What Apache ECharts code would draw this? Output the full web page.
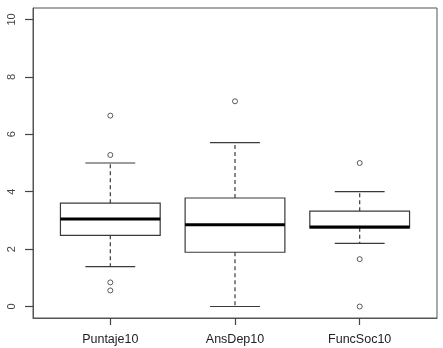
<!DOCTYPE html>
<html>
<head>
<meta charset="utf-8">
<script src="https://cdn.jsdelivr.net/npm/echarts@6/dist/echarts.min.js"></script>
<style>html,body{margin:0;padding:0;background:#fff}#c{width:443px;height:348px}</style>
</head>
<body>
<div id="c"></div>
<script>
var categories = ['Puntaje10', 'AnsDep10', 'FuncSoc10'];
var lowerWhisker = [1.39, 0, 2.2];
var q1 = [2.48, 1.89, 2.74];
var median = [3.05, 2.85, 2.77];
var q3 = [3.6, 3.78, 3.32];
var upperWhisker = [5.0, 5.71, 4.0];
var outliers = [[6.65, 5.28, 0.84, 0.56], [7.15], [5.0, 1.65, 0]];
var yTicks = [0, 2, 4, 6, 8, 10];
var xTicks = [1, 2, 3];

var boxData = categories.map(function (c, i) {
  return [i + 1, lowerWhisker[i], q1[i], median[i], q3[i], upperWhisker[i]];
});
var outlierData = [];
outliers.forEach(function (arr, i) {
  arr.forEach(function (v) { outlierData.push([i + 1, v]); });
});

var lineColor = '#3a3a3a';
var chart = echarts.init(document.getElementById('c'), null, {renderer: 'canvas'});
chart.setOption({
  animation: false,
  grid: {left: 33, right: 6, top: 8, bottom: 30, show: true, borderColor: '#555', borderWidth: 1},
  xAxis: {
    type: 'value', min: 0.38, max: 3.62,
    splitLine: {show: false},
    axisLine: {show: true, onZero: false, lineStyle: {color: '#555', width: 1}},
    axisTick: {show: true, length: 7, customValues: xTicks, lineStyle: {color: '#444', width: 1.2}},
    axisLabel: {
      customValues: xTicks, margin: 15,
      formatter: function (v) { return categories[Math.round(v) - 1]; },
      fontFamily: 'Liberation Sans, Arial, sans-serif', fontSize: 12.5, color: '#222'
    }
  },
  yAxis: {
    type: 'value', min: -0.4, max: 10.4,
    splitLine: {show: false},
    axisLine: {show: true, onZero: false, lineStyle: {color: '#555', width: 1}},
    axisTick: {show: true, length: 8, customValues: yTicks, lineStyle: {color: '#444', width: 1.2}},
    axisLabel: {
      customValues: yTicks, rotate: 90, margin: 16,
      fontFamily: 'Liberation Sans, Arial, sans-serif', fontSize: 11, color: '#444'
    }
  },
  series: [{
    type: 'custom',
    data: boxData,
    encode: {x: 0, y: [1, 2, 3, 4, 5]},
    renderItem: function (params, api) {
      var x = api.value(0);
      var lo = api.value(1), a = api.value(2), m = api.value(3), b = api.value(4), hi = api.value(5);
      var hw = 0.4, cw = 0.2;
      var pLo = api.coord([x, lo]), pA = api.coord([x, a]), pB = api.coord([x, b]), pHi = api.coord([x, hi]);
      var bl = api.coord([x - hw, a]), tr = api.coord([x + hw, b]);
      var mL = api.coord([x - hw, m]), mR = api.coord([x + hw, m]);
      var cL1 = api.coord([x - cw, lo]), cR1 = api.coord([x + cw, lo]);
      var cL2 = api.coord([x - cw, hi]), cR2 = api.coord([x + cw, hi]);
      var thin = {stroke: lineColor, lineWidth: 1.2, fill: null};
      var dash = {stroke: lineColor, lineWidth: 1.2, lineDash: [4, 3], fill: null};
      return {
        type: 'group',
        children: [
          {type: 'line', shape: {x1: pA[0], y1: pA[1], x2: pLo[0], y2: pLo[1]}, style: dash},
          {type: 'line', shape: {x1: pB[0], y1: pB[1], x2: pHi[0], y2: pHi[1]}, style: dash},
          {type: 'line', shape: {x1: cL1[0], y1: cL1[1], x2: cR1[0], y2: cR1[1]}, style: thin},
          {type: 'line', shape: {x1: cL2[0], y1: cL2[1], x2: cR2[0], y2: cR2[1]}, style: thin},
          {type: 'rect', shape: {x: bl[0], y: tr[1], width: tr[0] - bl[0], height: bl[1] - tr[1]},
            style: {stroke: lineColor, lineWidth: 1.2, fill: '#fff'}},
          {type: 'line', shape: {x1: mL[0], y1: mL[1], x2: mR[0], y2: mR[1]},
            style: {stroke: '#000', lineWidth: 3}}
        ]
      };
    }
  }, {
    type: 'scatter',
    data: outlierData,
    symbol: 'circle',
    symbolSize: 5,
    itemStyle: {color: '#fff', borderColor: '#333', borderWidth: 1}
  }]
});
</script>
</body>
</html>
